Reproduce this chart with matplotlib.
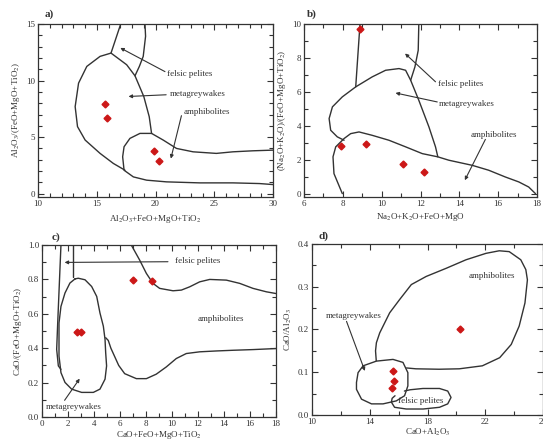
import matplotlib
matplotlib.use("Agg")
import matplotlib.pyplot as plt
from matplotlib.ticker import MultipleLocator, FixedLocator, FormatStrFormatter

plt.rcParams['font.family'] = ['Liberation Serif', 'DejaVu Serif']
plt.rcParams['mathtext.fontset'] = 'stix'

# ---- panel a: Al2O3/(FeO+MgO+TiO2) vs Al2O3+FeO+MgO+TiO2
a_felsic_left_x = [17.03, 16.21]
a_felsic_left_y = [15.0, 12.44]
a_felsic_right_x = [19.10, 19.15, 18.95, 18.62, 18.25]
a_felsic_right_y = [15.0, 13.93, 12.15, 11.26, 10.43]
a_meta_x = [17.40, 16.41, 15.28, 14.01, 13.36, 13.16, 13.45, 14.15, 15.28, 16.21, 17.54, 18.25, 19.0, 19.46, 19.66]
a_meta_y = [2.07, 2.67, 3.56, 4.74, 5.93, 7.70, 9.78, 11.26, 12.15, 12.44, 11.41, 10.43, 8.59, 6.81, 5.33]
a_amph_top_x = [19.66, 20.65, 21.78, 23.19, 25.17, 26.58, 28.28, 30.0]
a_amph_top_y = [5.33, 4.74, 4.0, 3.70, 3.56, 3.70, 3.79, 3.85]
a_amph_low_x = [19.66, 18.67, 17.82, 17.32, 17.20, 17.32, 18.11, 19.24, 20.93, 23.76, 26.58, 28.84, 30.0]
a_amph_low_y = [5.33, 5.33, 4.89, 4.15, 3.26, 2.07, 1.48, 1.19, 1.04, 0.95, 0.95, 0.89, 0.8]
a_pts_x = [15.71, 15.85, 19.89, 20.28]
a_pts_y = [7.94, 6.73, 3.79, 2.87]

# ---- panel b: (Na2O+K2O)/(FeO+MgO+TiO2) vs Na2O+K2O+FeO+MgO
b_felsic_left_x = [8.88, 8.66]
b_felsic_left_y = [10.0, 6.30]
b_felsic_right_x = [11.91, 11.88, 11.71, 11.49]
b_felsic_right_y = [10.0, 8.46, 7.48, 6.69]
b_meta_x = [8.06, 7.71, 7.37, 7.29, 7.46, 7.97, 8.66, 9.51, 10.2, 10.89, 11.23, 11.49, 11.91, 12.43, 12.77, 12.89]
b_meta_y = [3.15, 3.35, 3.74, 4.43, 5.12, 5.71, 6.30, 6.89, 7.28, 7.38, 7.28, 6.69, 5.51, 3.94, 2.76, 2.17]
b_amph_x = [7.97, 7.54, 7.49, 7.63, 8.06, 8.40, 8.83, 9.51, 10.37, 11.23, 12.09, 12.89, 13.46, 14.66, 15.51, 16.37, 17.06, 17.57, 17.92]
b_amph_y = [0.0, 1.18, 2.17, 2.76, 3.25, 3.54, 3.64, 3.44, 3.15, 2.76, 2.36, 2.17, 1.97, 1.67, 1.38, 0.98, 0.69, 0.39, 0.0]
b_pts_x = [8.86, 7.92, 9.17, 11.09, 12.17]
b_pts_y = [9.74, 2.80, 2.95, 1.73, 1.28]

# ---- panel c: CaO/(FeO+MgO+TiO2) vs CaO+FeO+MgO+TiO2
c_felsic_left_x = [1.46, 1.21, 1.13, 1.26, 1.46]
c_felsic_left_y = [1.0, 0.547, 0.393, 0.297, 0.277]
c_felsic_right_x = [2.41, 2.41]
c_felsic_right_y = [1.0, 0.817]
c_meta_x = [2.54, 2.79, 3.31, 3.82, 4.21, 4.46, 4.72, 4.85, 4.90, 4.97, 4.85, 4.46, 3.95, 3.05, 2.28, 1.77, 1.46, 1.31, 1.31, 1.46, 1.77, 2.15, 2.54]
c_meta_y = [0.803, 0.807, 0.798, 0.759, 0.701, 0.605, 0.528, 0.451, 0.374, 0.297, 0.220, 0.162, 0.143, 0.143, 0.162, 0.201, 0.258, 0.354, 0.547, 0.643, 0.721, 0.779, 0.803]
c_amph_top_x = [6.87, 7.51, 8.03, 8.54, 9.05, 10.08, 10.72, 11.36, 12.13, 12.9, 14.18, 15.21, 16.23, 17.26, 18.0]
c_amph_top_y = [1.0, 0.913, 0.835, 0.777, 0.748, 0.734, 0.738, 0.757, 0.786, 0.80, 0.796, 0.777, 0.748, 0.728, 0.718]
c_amph_low_x = [4.90, 5.1, 5.3, 5.6, 5.9, 6.36, 7.26, 8.03, 8.79, 9.56, 10.33, 11.1, 12.13, 13.41, 14.69, 16.23, 18.0]
c_amph_low_y = [0.461, 0.445, 0.40, 0.35, 0.30, 0.252, 0.223, 0.223, 0.249, 0.291, 0.340, 0.369, 0.379, 0.384, 0.388, 0.392, 0.398]
c_pts_x = [2.72, 3.03, 7.0, 8.46]
c_pts_y = [0.495, 0.495, 0.796, 0.790]

# ---- panel d: CaO/Al2O3 vs CaO+Al2O3
d_amph_x = [14.45, 14.4, 14.46, 14.69, 15.38, 16.07, 16.88, 17.91, 19.29, 20.67, 22.05, 22.97, 23.66, 24.46, 24.81, 24.92,
            24.75, 24.35, 23.8, 23.0, 21.8, 20.2, 18.8, 17.2, 16.55]
d_amph_y = [0.127, 0.15, 0.169, 0.192, 0.239, 0.270, 0.305, 0.324, 0.343, 0.363, 0.378, 0.384, 0.382, 0.363, 0.340, 0.316,
            0.262, 0.208, 0.165, 0.134, 0.115, 0.108, 0.107, 0.108, 0.110]
d_meta_x = [13.54, 14.46, 15.61, 16.30, 16.64, 16.64, 16.41, 15.84, 14.92, 14.12, 13.43, 13.08, 13.08, 13.19, 13.54]
d_meta_y = [0.115, 0.126, 0.130, 0.123, 0.099, 0.068, 0.045, 0.033, 0.026, 0.026, 0.037, 0.060, 0.076, 0.099, 0.115]
d_felsic_x = [15.75, 15.55, 15.5, 15.72, 16.53, 17.7, 18.83, 19.4, 19.63, 19.4, 18.83, 17.68, 16.8, 16.4]
d_felsic_y = [0.045, 0.039, 0.030, 0.018, 0.014, 0.014, 0.018, 0.026, 0.041, 0.056, 0.062, 0.062, 0.059, 0.056]
d_pts_x = [15.61, 15.68, 15.57, 20.22]
d_pts_y = [0.102, 0.080, 0.064, 0.201]
d_xticks = [10, 14, 18, 22, 26]

LC = '#333333'
RED = '#cc1818'
fs = 6.5

fig = plt.figure(figsize=(5.43, 4.42), dpi=100)
ax_a = fig.add_axes([0.070, 0.5543, 0.433, 0.391])
ax_b = fig.add_axes([0.560, 0.5543, 0.429, 0.391])
ax_c = fig.add_axes([0.0773, 0.0566, 0.431, 0.389])
ax_d = fig.add_axes([0.5746, 0.0611, 0.4254, 0.387])


def style(ax, xmaj, xmin, ymaj, ymin):
    ax.xaxis.set_major_locator(MultipleLocator(xmaj))
    ax.xaxis.set_minor_locator(MultipleLocator(xmin))
    ax.yaxis.set_major_locator(MultipleLocator(ymaj))
    ax.yaxis.set_minor_locator(MultipleLocator(ymin))
    ax.tick_params(which='both', direction='in', top=True, right=True, labelsize=fs, colors='#333333', pad=2)
    ax.tick_params(which='major', length=4, width=0.8)
    ax.tick_params(which='minor', length=3, width=0.8)
    for s in ax.spines.values():
        s.set_linewidth(0.9)
        s.set_color('#333333')


def label(ax, txt, xy, tail=None, tip=None, ha='left'):
    ax.text(xy[0], xy[1], txt, fontsize=fs, ha=ha, va='center', color='#333333')
    if tip is not None:
        ax.annotate('', xy=tip, xytext=tail,
                    arrowprops=dict(arrowstyle='-|>', color='#333333', lw=0.8, mutation_scale=5, shrinkA=0, shrinkB=0))


def line(ax, x, y):
    ax.plot(x, y, color=LC, lw=1.0, solid_capstyle='round', solid_joinstyle='round')


# panel a
line(ax_a, a_felsic_left_x, a_felsic_left_y)
line(ax_a, a_felsic_right_x, a_felsic_right_y)
line(ax_a, a_meta_x, a_meta_y)
line(ax_a, a_amph_top_x, a_amph_top_y)
line(ax_a, a_amph_low_x, a_amph_low_y)
ax_a.plot(a_pts_x, a_pts_y, 'D', color=RED, ms=3.5)
ax_a.set_xlim(10, 30)
ax_a.set_ylim(-0.3, 15)
style(ax_a, 5, 1, 5, 1)
label(ax_a, 'felsic pelites', (21.0, 10.6), (20.8, 10.8), (17.0, 12.9))
label(ax_a, 'metagreywakes', (21.2, 8.8), (20.9, 8.75), (17.7, 8.6))
label(ax_a, 'amphibolites', (22.35, 7.26), (22.2, 6.9), (21.3, 3.1))
ax_a.set_xlabel(r'Al$_2$O$_3$+FeO+MgO+TiO$_2$', fontsize=fs, labelpad=4, color='#333333')
ax_a.set_ylabel(r'Al$_2$O$_3$/(FeO+MgO+TiO$_2$)', fontsize=fs, labelpad=3, color='#333333')
ax_a.text(0.03, 1.03, 'a)', transform=ax_a.transAxes, fontsize=8, fontweight='bold', va='bottom', color='#333333')

# panel b
line(ax_b, b_felsic_left_x, b_felsic_left_y)
line(ax_b, b_felsic_right_x, b_felsic_right_y)
line(ax_b, b_meta_x, b_meta_y)
line(ax_b, b_amph_x, b_amph_y)
ax_b.plot(b_pts_x, b_pts_y, 'D', color=RED, ms=3.5, clip_on=False)
ax_b.set_xlim(6, 18)
ax_b.set_ylim(-0.2, 10)
style(ax_b, 2, 1, 2, 1)
label(ax_b, 'felsic pelites', (12.9, 6.44), (12.77, 6.6), (11.2, 8.27))
label(ax_b, 'metagreywakes', (12.95, 5.31), (12.86, 5.41), (10.71, 5.94))
label(ax_b, 'amphibolites', (14.57, 3.44), (15.34, 3.2), (14.28, 0.79))
ax_b.set_xlabel(r'Na$_2$O+K$_2$O+FeO+MgO', fontsize=fs, labelpad=2, color='#333333')
ax_b.set_ylabel(r'(Na$_2$O+K$_2$O)/(FeO+MgO+TiO$_2$)', fontsize=fs, labelpad=3, color='#333333')
ax_b.text(0.01, 1.03, 'b)', transform=ax_b.transAxes, fontsize=8, fontweight='bold', va='bottom', color='#333333')

# panel c
line(ax_c, c_felsic_left_x, c_felsic_left_y)
line(ax_c, c_felsic_right_x, c_felsic_right_y)
line(ax_c, c_meta_x, c_meta_y)
line(ax_c, c_amph_top_x, c_amph_top_y)
line(ax_c, c_amph_low_x, c_amph_low_y)
ax_c.plot(c_pts_x, c_pts_y, 'D', color=RED, ms=3.5)
ax_c.set_xlim(0, 18)
ax_c.set_ylim(0, 1.0)
style(ax_c, 2, 1, 0.2, 0.1)
ax_c.yaxis.set_major_formatter(FormatStrFormatter('%.1f'))
label(ax_c, 'felsic pelites', (10.2, 0.907), (9.69, 0.903), (1.74, 0.899))
label(ax_c, 'amphibolites', (12.0, 0.567))
label(ax_c, 'metagreywakes', (0.33, 0.058), (1.74, 0.097), (2.9, 0.223))
ax_c.set_xlabel(r'CaO+FeO+MgO+TiO$_2$', fontsize=fs, labelpad=1, color='#333333')
ax_c.set_ylabel(r'CaO/(FeO+MgO+TiO$_2$)', fontsize=fs, labelpad=3, color='#333333')
ax_c.text(0.04, 1.02, 'c)', transform=ax_c.transAxes, fontsize=8, fontweight='bold', va='bottom', color='#333333')

# panel d
line(ax_d, d_amph_x, d_amph_y)
line(ax_d, d_meta_x, d_meta_y)
line(ax_d, d_felsic_x, d_felsic_y)
ax_d.plot(d_pts_x, d_pts_y, 'D', color=RED, ms=3.5)
ax_d.set_xlim(10, 26)
ax_d.set_ylim(0, 0.4)
style(ax_d, 4, 2, 0.1, 0.05)
ax_d.xaxis.set_major_locator(FixedLocator(d_xticks))
ax_d.yaxis.set_major_formatter(FormatStrFormatter('%.1f'))
label(ax_d, 'metagreywakes', (12.9, 0.231), (12.39, 0.219), (13.66, 0.103), ha='center')
label(ax_d, 'amphibolites', (22.45, 0.326), ha='center')
label(ax_d, 'felsic pelites', (17.5, 0.033), ha='center')
ax_d.set_xlabel(r'CaO+Al$_2$O$_3$', fontsize=fs, labelpad=1, color='#333333')
ax_d.set_ylabel(r'CaO/Al$_2$O$_3$', fontsize=fs, labelpad=3, color='#333333')
ax_d.text(0.03, 1.02, 'd)', transform=ax_d.transAxes, fontsize=8, fontweight='bold', va='bottom', color='#333333')

fig.savefig('out.png', dpi=100)
